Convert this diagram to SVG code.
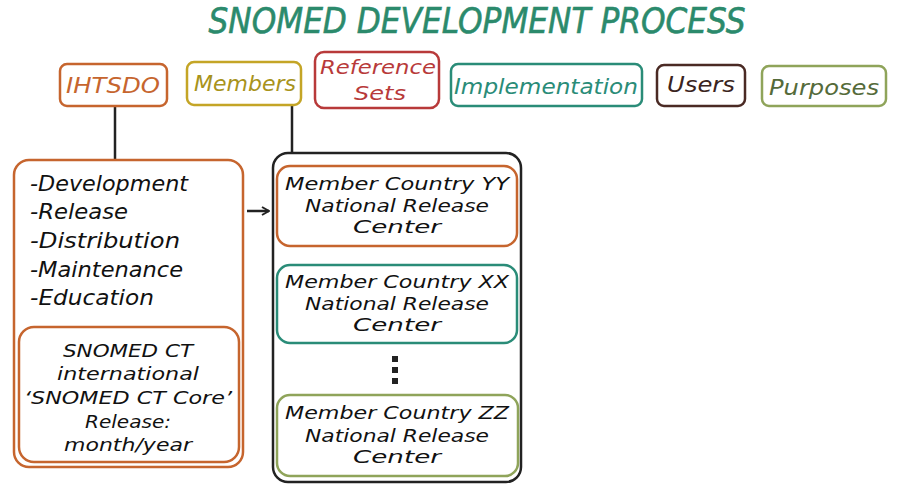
<svg xmlns="http://www.w3.org/2000/svg" width="923" height="498" viewBox="0 0 923 498">
<defs>
<style>
text{font-family:"DejaVu Sans","Liberation Sans",sans-serif;font-style:italic;}
.t{font-size:21px;text-anchor:middle;fill:#111;}
.m{font-size:18px;text-anchor:middle;fill:#111;}
.l{font-size:21px;fill:#111;}
.box{fill:#fff;stroke-width:2.5;}
.conn{stroke:#222;stroke-width:2.5;fill:none;}
</style>
<marker id="ah" viewBox="0 0 10 10" refX="9" refY="5" markerWidth="10" markerHeight="12" orient="auto" markerUnits="userSpaceOnUse">
<path d="M2,1 L9,5 L2,9" fill="none" stroke="#222" stroke-width="2"/>
</marker>
</defs>
<rect width="923" height="498" fill="#fff"/>
<text x="477" y="33" text-anchor="middle" font-size="35" fill="#2b8a6c" stroke="#2b8a6c" stroke-width="0.6" textLength="537" lengthAdjust="spacingAndGlyphs">SNOMED DEVELOPMENT PROCESS</text>

<g id="connectors">
<line class="conn" x1="115" y1="106" x2="115" y2="160"/>
<line class="conn" x1="292" y1="105" x2="292" y2="153"/>
<line class="conn" x1="247" y1="211" x2="269" y2="211" marker-end="url(#ah)"/>
</g>

<g id="ihtsdo">
<rect class="box" x="60" y="64" width="107" height="42" rx="7" stroke="#c6652e"/>
<text x="113" y="93" font-size="22" text-anchor="middle" fill="#c6652e" textLength="94" lengthAdjust="spacingAndGlyphs">IHTSDO</text>
</g>
<g id="members">
<rect class="box" x="187" y="62" width="114" height="43" rx="7" stroke="#c4a526"/>
<text x="245" y="91" font-size="22" text-anchor="middle" fill="#a8931c" textLength="102" lengthAdjust="spacingAndGlyphs">Members</text>
</g>
<g id="reference-sets">
<rect class="box" x="315" y="52" width="124" height="56" rx="9" stroke="#b83a3a"/>
<text x="378" y="74" font-size="19" text-anchor="middle" fill="#b83a3a" textLength="116" lengthAdjust="spacingAndGlyphs">Reference</text>
<text x="380" y="100" font-size="19" text-anchor="middle" fill="#b83a3a" textLength="52" lengthAdjust="spacingAndGlyphs">Sets</text>
</g>
<g id="implementation">
<rect class="box" x="451" y="64" width="191" height="42" rx="7" stroke="#2a8c78"/>
<text x="546" y="94" font-size="22" text-anchor="middle" fill="#2a8c78" textLength="184" lengthAdjust="spacingAndGlyphs">Implementation</text>
</g>
<g id="users">
<rect class="box" x="657" y="65" width="88" height="41" rx="7" stroke="#4a2a24"/>
<text x="701" y="92" font-size="22" text-anchor="middle" fill="#3a2420" textLength="68" lengthAdjust="spacingAndGlyphs">Users</text>
</g>
<g id="purposes">
<rect class="box" x="762" y="66" width="124" height="40" rx="7" stroke="#8fa45a"/>
<text x="824" y="95" font-size="22" text-anchor="middle" fill="#556b3a" textLength="110" lengthAdjust="spacingAndGlyphs">Purposes</text>
</g>

<g id="ihtsdo-tasks">
<rect class="box" x="14" y="160" width="229" height="307" rx="15" stroke="#c6652e"/>
<text class="l" x="30" y="191" textLength="158" lengthAdjust="spacingAndGlyphs">-Development</text>
<text class="l" x="30" y="219" textLength="98" lengthAdjust="spacingAndGlyphs">-Release</text>
<text class="l" x="30" y="248" textLength="150" lengthAdjust="spacingAndGlyphs">-Distribution</text>
<text class="l" x="30" y="277" textLength="153" lengthAdjust="spacingAndGlyphs">-Maintenance</text>
<text class="l" x="30" y="305" textLength="124" lengthAdjust="spacingAndGlyphs">-Education</text>
</g>
<g id="snomed-core">
<rect class="box" x="19" y="327" width="220" height="135" rx="15" stroke="#c6652e"/>
<text class="m" x="128" y="357" textLength="130" lengthAdjust="spacingAndGlyphs">SNOMED CT</text>
<text class="m" x="128" y="380" textLength="142" lengthAdjust="spacingAndGlyphs">international</text>
<text class="m" x="128" y="404" textLength="208" lengthAdjust="spacingAndGlyphs">‘SNOMED CT Core’</text>
<text class="m" x="128" y="428" textLength="86" lengthAdjust="spacingAndGlyphs">Release:</text>
<text class="m" x="128" y="451" textLength="128" lengthAdjust="spacingAndGlyphs">month/year</text>
</g>

<g id="members-group">
<rect class="box" x="273" y="153" width="248" height="329" rx="15" stroke="#222"/>
</g>
<g id="member-yy">
<rect class="box" x="277" y="166" width="240" height="80" rx="13" stroke="#c6652e"/>
<text class="m" x="397" y="190" textLength="224" lengthAdjust="spacingAndGlyphs">Member Country YY</text>
<text class="m" x="397" y="212" textLength="184" lengthAdjust="spacingAndGlyphs">National Release</text>
<text class="m" x="397" y="233" textLength="88" lengthAdjust="spacingAndGlyphs">Center</text>
</g>
<g id="member-xx">
<rect class="box" x="277" y="265" width="240" height="78" rx="13" stroke="#2a8c78"/>
<text class="m" x="397" y="288" textLength="224" lengthAdjust="spacingAndGlyphs">Member Country XX</text>
<text class="m" x="397" y="310" textLength="184" lengthAdjust="spacingAndGlyphs">National Release</text>
<text class="m" x="397" y="331" textLength="88" lengthAdjust="spacingAndGlyphs">Center</text>
</g>
<g id="ellipsis">
<rect x="392" y="356" width="6" height="6" fill="#222"/>
<rect x="392" y="367" width="6" height="6" fill="#222"/>
<rect x="392" y="378" width="6" height="6" fill="#222"/>
</g>
<g id="member-zz">
<rect class="box" x="277" y="395" width="241" height="81" rx="13" stroke="#8fa45a"/>
<text class="m" x="397" y="419" textLength="224" lengthAdjust="spacingAndGlyphs">Member Country ZZ</text>
<text class="m" x="397" y="442" textLength="184" lengthAdjust="spacingAndGlyphs">National Release</text>
<text class="m" x="397" y="463" textLength="88" lengthAdjust="spacingAndGlyphs">Center</text>
</g>
</svg>
